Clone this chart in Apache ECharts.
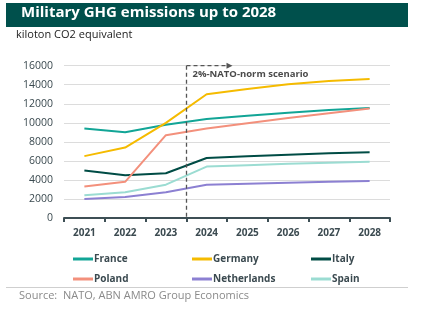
<!DOCTYPE html>
<html><head><meta charset="utf-8">
<script src="https://cdn.jsdelivr.net/npm/echarts@6/dist/echarts.min.js"></script>
<style>html,body{margin:0;padding:0;background:#fff}#c{width:423px;height:324px}</style>
</head><body><div id="c"></div>
<script>
const years = ['2021','2022','2023','2024','2025','2026','2027','2028'];
const france = [9400, 9000, 9800, 10400, 10750, 11050, 11350, 11550];
const germany = [6500, 7400, 10000, 13000, 13550, 14050, 14400, 14600];
const italy = [5000, 4500, 4700, 6300, 6500, 6650, 6800, 6900];
const poland = [3300, 3800, 8700, 9400, 9950, 10500, 11000, 11500];
const netherlands = [2000, 2200, 2700, 3500, 3600, 3700, 3800, 3900];
const spain = [2400, 2700, 3500, 5400, 5550, 5700, 5800, 5900];
const yTicks = [0, 2000, 4000, 6000, 8000, 10000, 12000, 14000, 16000];
const scenarioStart = '2023';
const scenarioEnd = '2024';
const FONT = '"Open Sans", sans-serif';

const seriesDefs = [
  ['France', france, '#12a596'],
  ['Germany', germany, '#f5bb00'],
  ['Italy', italy, '#004c45'],
  ['Poland', poland, '#f3907c'],
  ['Netherlands', netherlands, '#8c80d2'],
  ['Spain', spain, '#9bdcd2']
];
const legendLefts = [68, 187, 306];
const legendTops = [249, 269];

const chart = echarts.init(document.getElementById('c'), null, {renderer:'canvas'});
const legends = seriesDefs.map(([name], i) => ({
  left: legendLefts[i % 3], top: legendTops[Math.floor(i / 3)],
  itemWidth: 20, itemHeight: 3, itemGap: 0, icon: 'rect', data: [name],
  textStyle: {fontFamily: FONT, fontSize: 10, fontWeight: 'bold', color: '#3b4a50', padding: [0, 0, 0, -4]}
}));
chart.setOption({
  animation: false,
  grid: {left: 64, right: 33, top: 65.7, bottom: 106, containLabel: false},
  xAxis: {
    type: 'category', data: years, boundaryGap: true,
    axisLine: {lineStyle: {color: '#3d4f55', width: 2}},
    axisTick: {show: true, length: 4, lineStyle: {color: '#3d4f55', width: 2}},
    axisLabel: {fontFamily: FONT, fontSize: 10, fontWeight: 'bold', color: '#3b4a50', margin: 10}
  },
  yAxis: {
    type: 'value', min: yTicks[0], max: yTicks[yTicks.length-1], interval: 2000,
    axisLine: {show: false}, axisTick: {show: false},
    axisLabel: {fontFamily: FONT, fontSize: 10.5, color: '#3b4a50', margin: 11, formatter: v => String(v)},
    splitLine: {lineStyle: {color: '#dcdcdc', width: 1}}
  },
  legend: legends,
  series: seriesDefs.map(([name, data, color]) => ({
    name, type: 'line', data, color, symbol: 'none',
    lineStyle: {width: 2, color}, itemStyle: {color}
  }))
});

const x0 = chart.convertToPixel({xAxisIndex: 0}, scenarioStart);
const x1 = chart.convertToPixel({xAxisIndex: 0}, scenarioEnd);
const xs = Math.round((x0 + x1) / 2) + 0.5;
const yTop = chart.convertToPixel({yAxisIndex: 0}, 16000);
const yBot = chart.convertToPixel({yAxisIndex: 0}, 0);

chart.setOption({
  graphic: [
    {type: 'rect', shape: {x: 6, y: 3, width: 402, height: 24}, style: {fill: '#00504c'}},
    {type: 'text', left: 21, top: 5, style: {text: 'Military GHG emissions up to 2028', fill: '#fff', font: 'bold 15px ' + FONT}},
    {type: 'text', left: 16, top: 29, style: {text: 'kiloton CO2 equivalent', fill: '#222', font: '11px ' + FONT}},
    {type: 'line', shape: {x1: xs, y1: yTop, x2: xs, y2: yBot}, style: {stroke: '#555', lineWidth: 1.3, lineDash: [4, 3]}, z: 10},
    {type: 'line', shape: {x1: xs, y1: yTop, x2: xs + 42, y2: yTop}, style: {stroke: '#555', lineWidth: 1.3, lineDash: [4, 3]}, z: 10},
    {type: 'polygon', shape: {points: [[xs + 46, yTop], [xs + 40, yTop - 3], [xs + 40, yTop + 3]]}, style: {fill: '#555'}, z: 10},
    {type: 'text', x: xs + 6, y: yTop + 4, style: {text: '2%-NATO-norm scenario', fill: '#4a4a4a', font: 'bold 9.5px ' + FONT}, z: 10},
    {type: 'line', shape: {x1: 6, y1: 287.5, x2: 408, y2: 287.5}, style: {stroke: '#cfcfcf', lineWidth: 1}},
    {type: 'text', left: 19, top: 290, style: {text: 'Source:  NATO, ABN AMRO Group Economics', fill: '#8a8a8a', font: '11px ' + FONT}}
  ]
});
</script></body></html>
